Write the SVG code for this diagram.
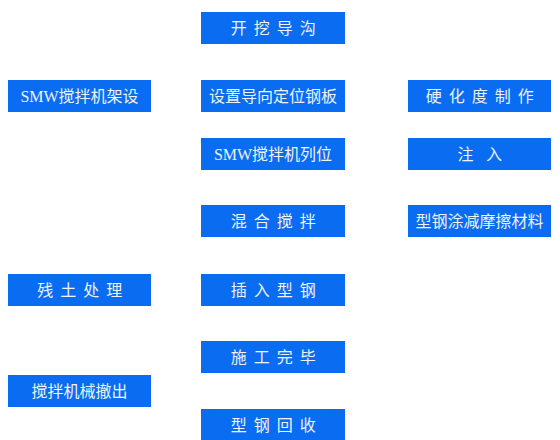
<svg xmlns="http://www.w3.org/2000/svg" width="560" height="440" viewBox="0 0 560 440">
<style>
.b{fill:#0a6cf0}
.t{fill:#eef3ff;font-family:"Liberation Serif","Noto Sans CJK SC",serif;font-size:16px;text-anchor:middle;white-space:pre}
.s{letter-spacing:1.5px}
</style>
<rect width="560" height="440" fill="#ffffff"/>
<g id="connectors"/>
<g id="n1"><rect class="b" x="201" y="12" width="144" height="32"/><text class="t s" x="274" y="34">开 挖 导 沟</text></g>
<g id="n2"><rect class="b" x="201" y="80" width="144" height="32"/><text class="t" x="273" y="102">设置导向定位钢板</text></g>
<g id="n3"><rect class="b" x="201" y="138" width="144" height="32"/><text class="t" x="273" y="160">SMW搅拌机列位</text></g>
<g id="n4"><rect class="b" x="201" y="205" width="144" height="32"/><text class="t s" x="274" y="227">混 合 搅 拌</text></g>
<g id="n5"><rect class="b" x="201" y="274" width="144" height="32"/><text class="t s" x="274" y="296">插 入 型 钢</text></g>
<g id="n6"><rect class="b" x="201" y="341" width="144" height="32"/><text class="t s" x="274" y="363">施 工 完 毕</text></g>
<g id="n7"><rect class="b" x="201" y="409" width="144" height="32"/><text class="t s" x="274" y="431">型 钢 回 收</text></g>
<g id="l1"><rect class="b" x="8" y="80" width="143" height="32"/><text class="t" x="79.5" y="102">SMW搅拌机架设</text></g>
<g id="l2"><rect class="b" x="8" y="274" width="143" height="32"/><text class="t s" x="80.5" y="296">残 土 处 理</text></g>
<g id="l3"><rect class="b" x="8" y="375" width="143" height="32"/><text class="t" x="79.5" y="397">搅拌机械撤出</text></g>
<g id="r1"><rect class="b" x="408" y="80" width="143" height="32"/><text class="t s" x="480.5" y="102">硬 化 度 制 作</text></g>
<g id="r2"><rect class="b" x="408" y="138" width="143" height="32"/><text class="t s" x="480.5" y="160">注  入</text></g>
<g id="r3"><rect class="b" x="408" y="205" width="143" height="32"/><text class="t" x="479.5" y="227">型钢涂减摩擦材料</text></g>
</svg>
